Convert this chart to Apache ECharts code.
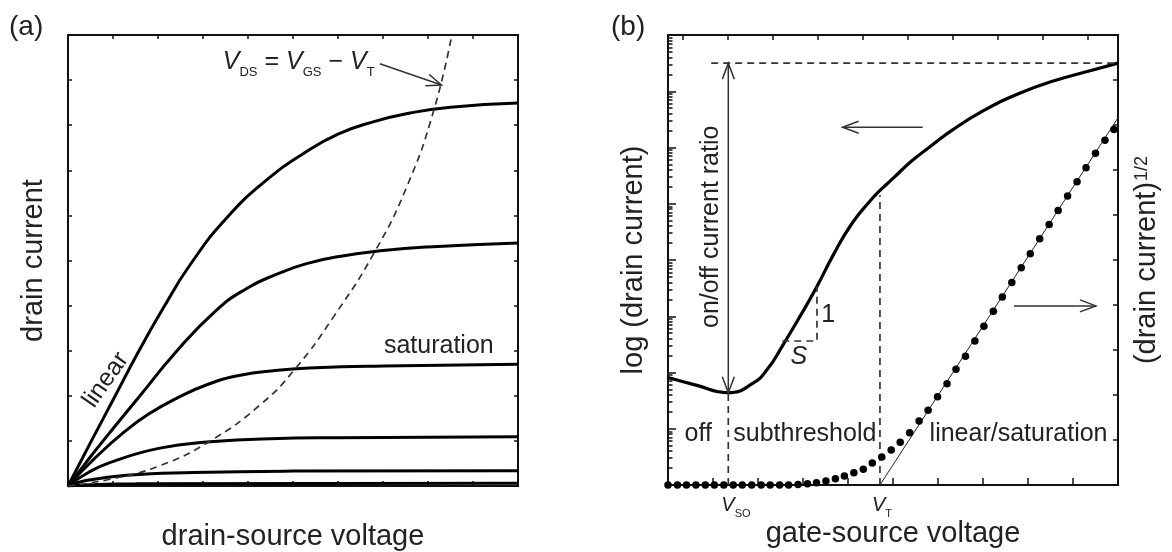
<!DOCTYPE html>
<html><head><meta charset="utf-8">
<script src="https://cdn.jsdelivr.net/npm/echarts@6/dist/echarts.min.js"></script>
<style>html,body{margin:0;padding:0;background:#fff}#c{width:1172px;height:552px}</style>
</head><body><div id="c"></div>
<script>
// ---------- Panel (a): drain current vs drain-source voltage (arbitrary units 0-10) ----------
const curveA1 = [[0,0],[0.52,1.0],[1.05,2.0],[1.55,2.95],[2.12,3.95],[2.71,4.9],[3.53,5.95],[4.49,6.85],[5.2,7.35],[6.0,7.8],[6.8,8.08],[7.6,8.27],[8.5,8.4],[10,8.49]];
const curveA2 = [[0,0],[0.4,0.52],[0.78,1.0],[1.6,2.0],[2.38,2.95],[3.3,3.9],[3.97,4.38],[4.6,4.68],[5.3,4.93],[6.1,5.1],[7,5.22],[8,5.3],[10,5.39]];
const curveA3 = [[0,0],[0.6,0.62],[1.25,1.2],[1.8,1.6],[2.42,1.95],[3.1,2.25],[3.8,2.45],[4.6,2.56],[5.5,2.62],[7,2.66],[10,2.7]];
const curveA4 = [[0,0],[0.45,0.3],[0.93,0.52],[2.04,0.84],[3.16,0.98],[4.5,1.05],[6,1.07],[10,1.09]];
const curveA5 = [[0,0],[0.4,0.12],[1.3,0.24],[2.78,0.3],[5,0.33],[10,0.34]];
const curveA6 = [[0,0],[0.5,0.03],[1.5,0.05],[10,0.06]];
const pinchOff = [[0,0],[0.93,0.15],[2.04,0.45],[3.16,1.0],[4.27,1.8],[5.05,2.6],[5.9,3.75],[6.82,5.2],[7.53,6.64],[8.12,8.3],[8.53,10]];
const pinchArrow = {tail:[6.93,9.36], tip:[8.3,8.89]};
const pinchLabelAt = [3.44,9.39];
const saturationAt = [8.24,3.1];
const linearAt = [0.84,2.35];

// ---------- Panel (b): transfer characteristics ----------
// left axis in decades of drain current (0-8), right axis sqrt(drain current) 0-10
const logCurrent = [[0,1.91],[0.6,1.78],[1.34,1.64],[1.89,1.81],[2.22,2.07],[2.54,2.47],[2.95,3.02],[3.31,3.53],[3.68,4.1],[4.08,4.64],[4.49,5.05],[4.73,5.25],[5.0,5.45],[5.4,5.75],[5.8,6.0],[6.3,6.3],[7.0,6.65],[7.8,6.96],[8.6,7.19],[9.4,7.37],[10,7.5]];
const sqrtX = [0,0.21,0.41,0.62,0.83,1.03,1.24,1.45,1.65,1.86,2.07,2.27,2.48,2.68,2.89,3.10,3.30,3.51,3.72,3.92,4.13,4.34,4.54,4.75,4.96,5.16,5.37,5.58,5.78,5.99,6.20,6.40,6.61,6.82,7.02,7.23,7.43,7.64,7.85,8.05,8.26,8.47,8.67,8.88,9.09,9.29,9.50,9.71,9.91];
const sqrtY = [0,0,0,0,0,0,0,0,0,0,0,0,0,0,0.01,0.03,0.05,0.09,0.14,0.2,0.27,0.35,0.49,0.62,0.78,0.95,1.16,1.42,1.66,1.96,2.25,2.57,2.86,3.2,3.53,3.86,4.18,4.5,4.83,5.14,5.47,5.79,6.1,6.42,6.74,7.05,7.37,7.66,7.9];
const vtFit = [[4.71,0],[10,8.16]];
const vso = 1.34, vsoLog = 1.64;
const vt = 4.71, vtTop = 5.15;
const onLevel = 7.5, onLineStart = 0.96;
const slopeTri = [[2.54,2.56],[3.31,2.56],[3.31,3.53]];
const leftArrowB = {tail:[5.66,6.36], tip:[3.88,6.36]};     // log axis units
const rightArrowB = {tail:[7.69,3.98], tip:[9.51,3.98]};    // sqrt axis units
const onOffTextAt = [0.96,4.59];
const offAt = [0.67,0.9], subAt = [3.04,0.9], linSatAt = [7.79,0.9];
const oneAt = [3.56,3.02], sAt = [2.91,2.28];
const topTicksB = [0.33,1.33,2.33,3.33,4.33,5.33,6.33,7.33,8.33,9.33];
const decadesB = [0,1,2,3,4,5,6,7];
const minorMult = [2,3,4,5,6,7,8,9];
const minorTicksB = [];
decadesB.forEach(d => minorMult.forEach(m => minorTicksB.push(+(d + Math.log10(m)).toFixed(4))));

const INK = '#111', TXT = '#222', DASH = '#333';
const FONT = '"Liberation Sans", Arial, Helvetica, sans-serif';
const nameStyle = {fontSize:29, color:TXT, fontFamily:FONT};

function tick(len, extra) {
  return Object.assign({show:true, inside:true, length:len, lineStyle:{color:INK, width:1.5}}, extra || {});
}
function valAxis(o) {
  return Object.assign({
    type:'value', min:0, max:10, interval:1,
    axisLine:{show:true, onZero:false, lineStyle:{color:INK, width:2}},
    axisTick:tick(4), axisLabel:{show:false}, splitLine:{show:false}
  }, o);
}
function curve(data, xi, yi, w, extra) {
  return Object.assign({type:'line', xAxisIndex:xi, yAxisIndex:yi, data:data, showSymbol:false, symbol:'none',
    smooth:0.5, silent:true, lineStyle:{color:'#000', width:w}}, extra || {});
}
function dashed(data, xi, yi, smooth) {
  return {type:'line', xAxisIndex:xi, yAxisIndex:yi, data:data, showSymbol:false, symbol:'none', silent:true,
    smooth: smooth ? 0.5 : false,
    lineStyle:{color:DASH, width:1.7, type:[7,5]}};
}

const chart = echarts.init(document.getElementById('c'), null, {renderer:'canvas', width:1172, height:552});
chart.setOption({
  animation:false,
  backgroundColor:'#fff',
  grid:[
    {left:68, top:35, width:450, height:451, outerBoundsMode:'none'},
    {left:668, top:35, width:450, height:450, outerBoundsMode:'none'}
  ],
  xAxis:[
    valAxis({gridIndex:0, position:'bottom', axisTick:tick(5), name:'drain-source voltage', nameLocation:'middle', nameGap:36, nameTextStyle:nameStyle}),
    valAxis({gridIndex:0, position:'top', axisTick:tick(4)}),
    valAxis({gridIndex:1, position:'bottom', axisTick:tick(7), name:'gate-source voltage', nameLocation:'middle', nameGap:34, nameTextStyle:nameStyle}),
    valAxis({gridIndex:1, position:'top', axisTick:tick(5, {customValues:topTicksB})})
  ],
  yAxis:[
    valAxis({gridIndex:0, position:'left', axisTick:tick(4), name:'drain current', nameLocation:'middle', nameGap:20, nameRotate:90, nameTextStyle:nameStyle}),
    valAxis({gridIndex:0, position:'right', axisTick:tick(4)}),
    valAxis({gridIndex:1, position:'left', min:0, max:8, interval:1, axisTick:tick(8), name:'log (drain current)', nameLocation:'middle', nameGap:20, nameRotate:90, nameTextStyle:nameStyle}),
    valAxis({gridIndex:1, position:'left', min:0, max:8, interval:1, axisLine:{show:false}, axisTick:tick(4.5, {customValues:minorTicksB})}),
    valAxis({gridIndex:1, position:'right', axisTick:tick(5), name:'(drain current){s|1/2}', nameLocation:'middle', nameGap:14, nameRotate:90,
      nameTextStyle:Object.assign({}, nameStyle, {rich:{s:{fontSize:18, color:TXT, fontFamily:FONT, padding:[0,0,8,1]}}})})
  ],
  series:[
    curve(curveA1,0,0,3), curve(curveA2,0,0,3), curve(curveA3,0,0,3), curve(curveA4,0,0,3), curve(curveA5,0,0,3), curve(curveA6,0,0,3),
    dashed(pinchOff,0,0,true),
    curve(logCurrent,2,2,3.2),
    dashed([[vso,0],[vso,vsoLog]],2,2,false),
    dashed([[vt,0],[vt,vtTop]],2,2,false),
    dashed([[onLineStart,onLevel],[10,onLevel]],2,2,false),
    dashed(slopeTri,2,2,false),
    {type:'line', xAxisIndex:2, yAxisIndex:4, data:vtFit, showSymbol:false, symbol:'none', silent:true, lineStyle:{color:'#222', width:1}},
    {type:'scatter', xAxisIndex:2, yAxisIndex:4, data:sqrtX.map((x,i)=>[x,sqrtY[i]]), symbol:'circle', symbolSize:7.5, clip:false, silent:true,
      itemStyle:{color:'#000', opacity:1}, z:5}
  ]
});

const P0 = (p) => chart.convertToPixel({xAxisIndex:0, yAxisIndex:0}, p);
const PL = (p) => chart.convertToPixel({xAxisIndex:2, yAxisIndex:2}, p);
const PR = (p) => chart.convertToPixel({xAxisIndex:2, yAxisIndex:4}, p);

function line(a, b, w) {
  return {type:'polyline', silent:true, z:50, shape:{points:[a,b]}, style:{stroke:DASH, lineWidth:w||1.5, fill:null}};
}
function head(tip, tail, len, half) {
  const dx = tip[0]-tail[0], dy = tip[1]-tail[1];
  const d = Math.hypot(dx,dy), ux = dx/d, uy = dy/d;
  const bx = tip[0]-ux*len, by = tip[1]-uy*len;
  return {type:'polyline', silent:true, z:50,
    shape:{points:[[bx - uy*half, by + ux*half], tip, [bx + uy*half, by - ux*half]]},
    style:{stroke:DASH, lineWidth:1.5, fill:null}};
}
function text(p, str, o) {
  o = o || {};
  const va = o.va || 'middle';
  return {type:'text', x:p[0], y:p[1], rotation:o.rot||0, silent:true, z:60,
    style:{text:str, fill:TXT, fontSize:o.size||25, fontFamily:FONT, fontStyle:o.italic?'italic':'normal',
      textAlign:o.align||'center', align:o.align||'center', textVerticalAlign:va, verticalAlign:va, rich:o.rich}};
}
const richV = (vs, ss, pad) => ({
  v:{fontSize:vs, fontStyle:'italic', fontFamily:FONT, fill:TXT, color:TXT, lineHeight:vs+5, verticalAlign:'middle'},
  s:{fontSize:ss, fontFamily:FONT, fill:TXT, color:TXT, padding:[pad,0,0,0], verticalAlign:'middle'},
  n:{fontSize:vs, fontFamily:FONT, fill:TXT, color:TXT, lineHeight:vs+5, verticalAlign:'middle'}
});

const g = [];
// panel labels
g.push(text([9,13], '(a)', {size:28, align:'left', va:'top'}));
g.push(text([611,13], '(b)', {size:28, align:'left', va:'top'}));
// panel (a) annotations
g.push(text(P0(pinchLabelAt), '{v|V}{s|DS}{n| = }{v|V}{s|GS}{n| − }{v|V}{s|T}', {align:'left', rich:richV(25,13,20)}));
const pa = P0(pinchArrow.tail), pb = P0(pinchArrow.tip);
g.push(line(pa, pb, 1.6)); g.push(head(pb, pa, 15, 6));
g.push(text(P0(saturationAt), 'saturation', {size:25}));
g.push(text(P0(linearAt), 'linear', {size:25, rot:55*Math.PI/180}));
// panel (b) annotations
const oa = PL([vso, vsoLog]), ob = PL([vso, onLevel]);
g.push(line(oa, ob, 1.5)); g.push(head(oa, ob, 16, 6)); g.push(head(ob, oa, 16, 6));
g.push(text(PL(onOffTextAt), 'on/off current ratio', {size:25, rot:Math.PI/2}));
const la = PL(leftArrowB.tail), lb = PL(leftArrowB.tip);
g.push(line(la, lb, 1.5)); g.push(head(lb, la, 16, 6));
const ra = PR(rightArrowB.tail), rb = PR(rightArrowB.tip);
g.push(line(ra, rb, 1.5)); g.push(head(rb, ra, 16, 6));
g.push(text(PL(offAt), 'off', {size:25}));
g.push(text(PL(subAt), 'subthreshold', {size:25}));
g.push(text(PL(linSatAt), 'linear/saturation', {size:25}));
g.push(text(PL(oneAt), '1', {size:25}));
g.push(text(PL(sAt), 'S', {size:25, italic:true}));
const vsoPx = PL([vso,0]), vtPx = PL([vt,0]);
g.push(text([vsoPx[0]-7, vsoPx[1]+20], '{v|V}{s|SO}', {align:'left', rich:richV(20,11,17)}));
g.push(text([vtPx[0]-8, vtPx[1]+20], '{v|V}{s|T}', {align:'left', rich:richV(20,11,17)}));
chart.setOption({graphic:g});
</script></body></html>
